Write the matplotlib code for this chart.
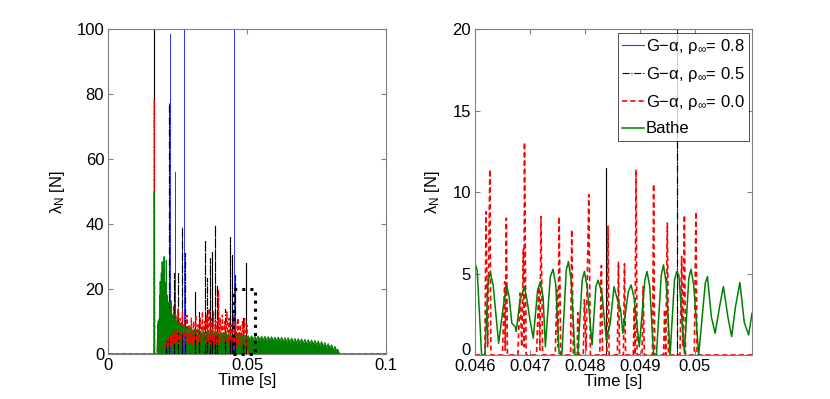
import matplotlib
matplotlib.use("Agg")
import matplotlib.pyplot as plt
from matplotlib.patches import Rectangle
from matplotlib.transforms import ScaledTranslation

plt.rcParams['font.family'] = ['Liberation Sans', 'DejaVu Sans']
plt.rcParams['mathtext.fontset'] = 'custom'
plt.rcParams['mathtext.rm'] = 'Liberation Sans'
plt.rcParams['mathtext.it'] = 'Liberation Sans:italic'

# --- series labels / colours
labels = ['G−α, ρ$_{\\infty}$= 0.8', 'G−α, ρ$_{\\infty}$= 0.5',
          'G−α, ρ$_{\\infty}$= 0.0', 'Bathe']

# --- G-alpha rho=0.8 : isolated spikes (time [s], lambda [N])
blue_t = [0.01655, 0.0221, 0.0241, 0.0273, 0.0451]
blue_v = [110, 98.5, 56, 110, 110]

# --- G-alpha rho=0.5 : isolated spikes
black_t = [0.01655, 0.0206, 0.0217, 0.0237, 0.0252, 0.0266, 0.0276, 0.0313,
           0.0325, 0.0349, 0.0357, 0.0365, 0.0374, 0.0385, 0.0390, 0.0421,
           0.0439, 0.0445, 0.0457, 0.04838, 0.04967]
black_v = [110, 13, 77.2, 24.8, 25.3, 39.2, 31, 19.2,
           13, 35.1, 23.3, 29.5, 31.5, 39.8, 21.2, 14,
           36.1, 30.4, 24.3, 11.5, 28]

# --- G-alpha rho=0.0 : overview (left panel)
red_all_t = [0.0, 0.0165, 0.01655, 0.0167, 0.0176, 0.0179, 0.0183, 0.0187, 0.0191,
             0.0195, 0.0199, 0.0203, 0.0207, 0.0211, 0.0215, 0.0219, 0.0223, 0.0227,
             0.0231, 0.0235, 0.0239, 0.0243, 0.0247, 0.0251, 0.0255, 0.0259, 0.0263,
             0.0267, 0.0271, 0.0275, 0.0279, 0.0283, 0.0287, 0.0291, 0.0295, 0.0299,
             0.0303, 0.0307, 0.0311, 0.0315, 0.0319, 0.0323, 0.0327, 0.0331, 0.0335,
             0.0339, 0.0343, 0.0347, 0.0351, 0.0355, 0.0359, 0.0363, 0.0367, 0.0371,
             0.0375, 0.0379, 0.0383, 0.0387, 0.0391, 0.0395, 0.0397, 0.0399, 0.0403,
             0.0407, 0.0411, 0.0415, 0.0419, 0.0423, 0.0427, 0.0431, 0.0435, 0.0439,
             0.0443, 0.0447, 0.0451, 0.0455, 0.0459, 0.0463, 0.0467, 0.0471, 0.0475,
             0.0479, 0.0483, 0.0487, 0.0491, 0.0495, 0.0499, 0.0503, 0.0506, 0.1]
red_all_v = [0, 0, 78, 0, 0, 10, 1, 12, 2,
             9, 1, 14, 2, 10, 3, 13, 2, 11,
             3, 15, 3, 12, 4, 14, 3, 11, 4,
             13, 3, 10, 4, 12, 3, 9, 4, 11,
             3, 10, 4, 12, 3, 9, 4, 11, 3,
             13, 4, 10, 3, 12, 4, 14, 3, 11,
             4, 13, 3, 10, 4, 3, 19.5, 3, 11,
             4, 12, 3, 10, 4, 13, 3, 11, 4,
             9, 3, 12, 4, 10, 2, 11, 3, 9,
             2, 10, 3, 11, 2, 9, 1, 0, 0]

# --- G-alpha rho=0.0 : zoom window (right panel)
red_zoom_t = [0.04600, 0.04618, 0.04620, 0.04623, 0.04625, 0.04627, 0.04629,
              0.04650, 0.04654, 0.04655, 0.04657, 0.04659,
              0.04678, 0.04682, 0.04685, 0.04688, 0.04689, 0.04690, 0.04693,
              0.04712, 0.04716, 0.04718, 0.04720, 0.04723,
              0.04746, 0.04749, 0.04751, 0.04753, 0.04756,
              0.04774, 0.04776, 0.04779, 0.04786, 0.04787, 0.04789,
              0.04797, 0.04799, 0.04802, 0.04807, 0.04810,
              0.04827, 0.04830, 0.04832, 0.04840, 0.04842, 0.04844,
              0.04859, 0.04861, 0.04863, 0.04870, 0.04872, 0.04874,
              0.04888, 0.04890, 0.04891, 0.04893, 0.04895,
              0.04904, 0.04906, 0.04908, 0.04923, 0.04925, 0.04927,
              0.04943, 0.04945, 0.04947, 0.04950, 0.04952,
              0.04973, 0.04976, 0.04978, 0.04981, 0.04983,
              0.04999, 0.05002, 0.05004, 0.05104]
red_zoom_v = [0, 0, 8.8, 0.5, 6, 11.4, 0,
              0, 4.5, 0.3, 8.4, 0,
              0, 3.8, 0.5, 6.5, 0.5, 13.07, 0,
              0, 4.2, 0.3, 8.5, 0,
              0, 4.0, 0.5, 8.5, 0,
              0, 7.7, 0, 0, 2.6, 0,
              0, 3.4, 0.3, 9.85, 0,
              0, 5.5, 0, 0, 7.9, 0,
              0, 5.7, 0, 0, 5.6, 0,
              0, 3.0, 0, 11.4, 0,
              0, 4.2, 0, 0, 10.5, 0,
              0, 2.8, 0, 8.1, 0,
              0, 6.05, 0.5, 8.6, 0,
              0, 8.8, 0, 0]

# --- Bathe : overview envelope (left panel)
green_all_t = [0.0, 0.01650, 0.01655, 0.01660, 0.0176, 0.0178, 0.0180, 0.0181, 0.0183,
               0.0185, 0.0186, 0.0187, 0.0189, 0.0191, 0.0192, 0.0194, 0.0196, 0.0198,
               0.0199, 0.0201, 0.0203, 0.0205, 0.0207, 0.0209, 0.0211, 0.0213, 0.0215,
               0.0217, 0.0219, 0.0222, 0.0224, 0.0226, 0.0228, 0.0231, 0.0233, 0.0235,
               0.0238, 0.0241, 0.0244, 0.0248, 0.0252, 0.0256, 0.0260, 0.0264, 0.0268,
               0.0272, 0.0278, 0.0284, 0.0290, 0.0296, 0.0302, 0.0310, 0.0318, 0.0326,
               0.0334, 0.0342, 0.0350, 0.0358, 0.0366, 0.0374, 0.0382, 0.0390, 0.0398,
               0.0406, 0.0414, 0.0422, 0.0430, 0.0438, 0.0446, 0.0454, 0.0462, 0.0470,
               0.0476, 0.0480, 0.0486, 0.0492, 0.0498, 0.0504, 0.0510, 0.0516, 0.0522,
               0.0528, 0.0534, 0.0540, 0.0546, 0.0552, 0.0558, 0.0564, 0.0570, 0.0576,
               0.0582, 0.0588, 0.0594, 0.0600, 0.0606, 0.0612, 0.0618, 0.0624, 0.0630,
               0.0636, 0.0642, 0.0648, 0.0654, 0.0660, 0.0666, 0.0672, 0.0678, 0.0684,
               0.0690, 0.0696, 0.0702, 0.0708, 0.0714, 0.0720, 0.0726, 0.0732, 0.0738,
               0.0744, 0.0750, 0.0756, 0.0762, 0.0768, 0.0774, 0.0780, 0.0786, 0.0792,
               0.0798, 0.0804, 0.0810, 0.0816, 0.0822, 0.0826, 0.0832, 0.1]
green_all_v = [0, 0, 50, 0, 0, 9, 1, 10.5, 1,
               18, 2, 22.3, 2, 25, 3, 28.4, 3, 26,
               3, 30, 4, 22, 4, 28.9, 5, 18, 5,
               16, 5, 14, 6, 16.4, 6, 12, 6, 13,
               7, 11, 7, 11.5, 7, 10, 7, 9.5, 6.5,
               9, 6.5, 8.5, 6.5, 8, 6, 7.5, 6, 7.4,
               6, 7.2, 5.8, 7.0, 5.8, 6.9, 5.7, 6.8, 5.6,
               6.6, 5.5, 6.5, 5.4, 6.3, 5.3, 6.1, 5.2, 6.0,
               4.8, 5.8, 4.6, 5.7, 4.5, 5.6, 4.4, 5.6, 4.4,
               5.5, 4.3, 5.5, 4.3, 5.4, 4.2, 5.4, 4.2, 5.3,
               4.1, 5.3, 4.0, 5.2, 4.0, 5.2, 3.9, 5.1, 3.8,
               5.0, 3.7, 5.0, 3.6, 4.9, 3.5, 4.8, 3.4, 4.7,
               3.3, 4.6, 3.2, 4.5, 3.1, 4.4, 3.0, 4.3, 2.9,
               4.2, 2.7, 4.0, 2.5, 3.8, 2.3, 3.5, 2.0, 3.2,
               1.7, 2.8, 1.3, 2.3, 0.9, 1.5, 0, 0]

# --- Bathe : zoom window (right panel)
green_zoom_t = [0.04600, 0.04604, 0.04612, 0.04618, 0.04624, 0.04628, 0.04633,
                0.04643, 0.04650, 0.04654, 0.04658, 0.04662, 0.04667, 0.04673,
                0.04675, 0.04682, 0.04690, 0.04695, 0.04700, 0.04706, 0.04714,
                0.04719, 0.04724, 0.04728, 0.04737, 0.04742, 0.04747, 0.04753,
                0.04758, 0.04766, 0.04770, 0.04775, 0.04782, 0.04787, 0.04795,
                0.04799, 0.04804, 0.04813, 0.04820, 0.04824, 0.04831, 0.04839,
                0.04846, 0.04853, 0.04860, 0.04865, 0.04869, 0.04879, 0.04884,
                0.04889, 0.04899, 0.04909, 0.04913, 0.04918, 0.04925, 0.04930,
                0.04939, 0.04943, 0.04948, 0.04955, 0.04963, 0.04967, 0.04971,
                0.04981, 0.04989, 0.04993, 0.04998, 0.05007, 0.05019, 0.05023,
                0.05030, 0.05037, 0.05045, 0.05052, 0.05060, 0.05067, 0.05074,
                0.05082, 0.05090, 0.05098, 0.05104]
green_zoom_v = [5.64, 5.2, 0, 0, 4.6, 5.03, 4.3,
                0.72, 2.6, 3.6, 4.2, 3.6, 1.95, 1.74,
                1.44, 3.38, 4.2, 3.3, 2.15, 1.03, 4.0,
                4.5, 3.5, 0.51, 4.8, 5.27, 4.3, 0.1,
                0, 5.2, 5.74, 4.6, 0, 0, 4.6,
                5.13, 4.2, 0.62, 4.2, 4.6, 3.79, 0.92,
                1.95, 4.2, 3.28, 2.8, 1.33, 3.9, 4.3,
                3.6, 0.51, 4.6, 5.13, 4.2, 0, 0,
                4.9, 5.54, 4.4, 0, 4.6, 5.13, 4.9,
                0.1, 4.7, 5.27, 4.3, 0, 4.4, 4.82,
                2.36, 1.33, 2.97, 4.2, 2.36, 1.13, 2.97,
                4.45, 2.0, 1.23, 2.56]

# --- axes ranges, ticks, zoom box
left_xlim = (0, 0.1)
left_ylim = (0, 100)
left_xticks = [0, 0.05, 0.1]
left_xticklabels = ['0', '0.05', '0.1']
left_yticks = [0, 20, 40, 60, 80, 100]
right_xlim = (0.046, 0.05104)
right_ylim = (0, 20)
right_xticks = [0.046, 0.047, 0.048, 0.049, 0.05]
right_xticklabels = ['0.046', '0.047', '0.048', '0.049', '0.05']
right_yticks = [0, 5, 10, 15, 20]
zoom_box = (0.0448, 0.0528, 0, 20)   # t0, t1, lambda0, lambda1

BLUE = '#3333ff'
GREEN = '#008000'
FRAME = '#808080'
FS = 12


def spike_line(ts, hs, t_start, t_end):
    xs, ys = [t_start], [0.0]
    for t, h in zip(ts, hs):
        xs += [t, t, t]
        ys += [0.0, h, 0.0]
    xs.append(t_end)
    ys.append(0.0)
    return xs, ys


def style_axes(ax):
    for s in ax.spines.values():
        s.set_color(FRAME)
        s.set_linewidth(0.8)
    ax.tick_params(direction='in', top=True, right=True, length=3.5,
                   color=FRAME, labelsize=FS, pad=3)
    ax.set_xlabel('Time [s]', fontsize=FS, labelpad=0)
    ax.set_ylabel('λ$_{\\mathrm{N}}$ [N]', fontsize=FS, labelpad=7)


fig = plt.figure(figsize=(8.3, 3.99), dpi=100)
ax1 = fig.add_axes([0.1305, 0.1128, 0.3345, 0.8138])
ax2 = fig.add_axes([0.5723, 0.1103, 0.3337, 0.8158])

bx, by = spike_line(blue_t, blue_v, 0.0, 0.1)
kx, ky = spike_line(black_t, black_v, 0.0, 0.1)

# left panel: whole simulation
ax1.plot(bx, by, color=BLUE, lw=0.7)
ax1.plot(kx, ky, color='k', ls='-.', lw=0.8)
ax1.plot(red_all_t, red_all_v, color='r', ls='--', lw=0.9)
ax1.fill_between(green_all_t, 0, green_all_v, color=GREEN, lw=0)
ax1.plot(green_all_t, green_all_v, color=GREEN, lw=0.8)
ax1.add_patch(Rectangle((zoom_box[0], zoom_box[2]), zoom_box[1] - zoom_box[0],
                        zoom_box[3] - zoom_box[2], fill=False, ec='k',
                        ls=':', lw=2.2, clip_on=False, zorder=5))
ax1.set_xlim(*left_xlim)
ax1.set_ylim(*left_ylim)
ax1.set_xticks(left_xticks)
ax1.set_xticklabels(left_xticklabels)
ax1.set_yticks(left_yticks)
style_axes(ax1)

# right panel: zoom on the contact phase
h1, = ax2.plot(bx, by, color=BLUE, lw=0.8, label=labels[0])
h2, = ax2.plot(kx, ky, color='k', ls='-.', lw=0.8, label=labels[1])
h3, = ax2.plot(red_zoom_t, red_zoom_v, color='r', ls='--', lw=1.2,
               dashes=(3, 2), label=labels[2])
h4, = ax2.plot(green_zoom_t, green_zoom_v, color=GREEN, lw=1.1, label=labels[3])
ax2.set_xlim(*right_xlim)
ax2.set_ylim(*right_ylim)
ax2.set_xticks(right_xticks)
ax2.set_xticklabels(right_xticklabels)
ax2.set_yticks(right_yticks)
style_axes(ax2)

# nudge the "0" of the zoom panel up so it clears the "0.046" below it
lbl0 = ax2.get_yticklabels()[0]
lbl0.set_transform(lbl0.get_transform() + ScaledTranslation(0, 4 / 72, fig.dpi_scale_trans))

leg = ax2.legend(handles=[h1, h2, h3, h4], loc='upper right', fontsize=FS,
                 frameon=True, fancybox=False, handlelength=1.3,
                 handletextpad=0.1, labelspacing=0.55, borderpad=0.25,
                 borderaxespad=0.2)
leg.get_frame().set_edgecolor('k')
leg.get_frame().set_linewidth(0.6)

fig.savefig('out.png', dpi=100)
